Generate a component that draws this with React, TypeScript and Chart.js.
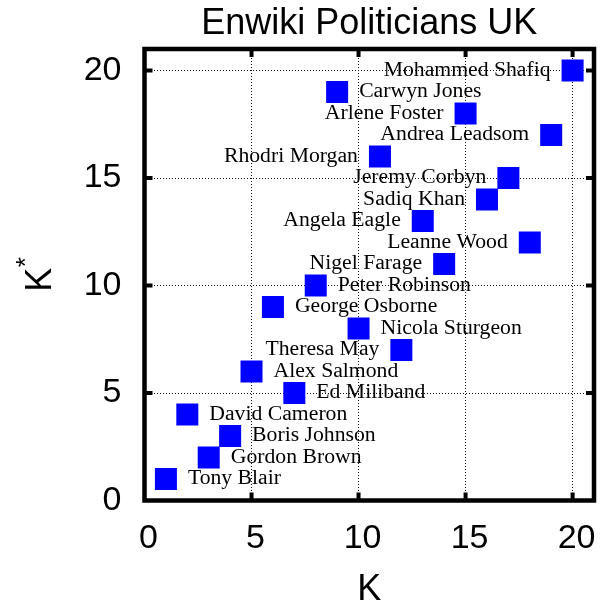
import React, { useEffect, useRef } from "react";
import { Chart, registerables } from "chart.js";

Chart.register(...registerables);

// ---- data ----
const politicians = [
  "Tony Blair",
  "Gordon Brown",
  "Boris Johnson",
  "David Cameron",
  "Ed Miliband",
  "Alex Salmond",
  "Theresa May",
  "Nicola Sturgeon",
  "George Osborne",
  "Peter Robinson",
  "Nigel Farage",
  "Leanne Wood",
  "Angela Eagle",
  "Sadiq Khan",
  "Jeremy Corbyn",
  "Rhodri Morgan",
  "Andrea Leadsom",
  "Arlene Foster",
  "Carwyn Jones",
  "Mohammed Shafiq",
];
const kValues = [1, 3, 4, 2, 7, 5, 12, 10, 6, 8, 14, 18, 13, 16, 17, 11, 19, 15, 9, 20];
const kStarValues = [1, 2, 3, 4, 5, 6, 7, 8, 9, 10, 11, 12, 13, 14, 15, 16, 17, 18, 19, 20];
const leftLabeled = [
  "Theresa May",
  "Nigel Farage",
  "Leanne Wood",
  "Angela Eagle",
  "Sadiq Khan",
  "Jeremy Corbyn",
  "Rhodri Morgan",
  "Andrea Leadsom",
  "Arlene Foster",
  "Mohammed Shafiq",
];
const xTickValues = [0, 5, 10, 15, 20];
const yTickValues = [0, 5, 10, 15, 20];
const chartTitle = "Enwiki Politicians UK";
const xTitle = "K";
const yTitle = "K";
const yTitleSup = "*";

const SANS = "'Liberation Sans', Arial, Helvetica, sans-serif";
const SERIF = "'Liberation Serif', 'Times New Roman', serif";

const overlayPlugin = {
  id: "overlay",
  afterDatasetsDraw(chart: any) {
    const ctx = chart.ctx as CanvasRenderingContext2D;
    const meta = chart.getDatasetMeta(0);
    const { left, right, top, bottom } = chart.chartArea;
    const xs = chart.scales.x;
    const ys = chart.scales.y;

    ctx.save();
    // point labels
    ctx.font = `20px ${SERIF}`;
    ctx.fillStyle = "#000";
    ctx.textBaseline = "middle";
    meta.data.forEach((el: any, i: number) => {
      const name = politicians[i];
      const isLeft = leftLabeled.includes(name);
      ctx.save();
      ctx.translate(el.x + (isLeft ? -22 : 22), el.y);
      ctx.scale(1.085, 1);
      ctx.textAlign = isLeft ? "right" : "left";
      ctx.fillText(name, 0, 0);
      ctx.restore();
    });

    // inward tick marks on all four sides
    ctx.strokeStyle = "#000";
    ctx.setLineDash([]);
    ctx.lineWidth = 4;
    ctx.beginPath();
    xTickValues.forEach((v) => {
      if (v === 0) return;
      const px = xs.getPixelForValue(v);
      ctx.moveTo(px, top);
      ctx.lineTo(px, top + 8);
      ctx.moveTo(px, bottom);
      ctx.lineTo(px, bottom - 8);
    });
    yTickValues.forEach((v) => {
      if (v === 0) return;
      const py = ys.getPixelForValue(v);
      ctx.moveTo(left, py);
      ctx.lineTo(left + 8, py);
      ctx.moveTo(right, py);
      ctx.lineTo(right - 8, py);
    });
    ctx.stroke();

    // frame
    ctx.lineWidth = 4.5;
    ctx.strokeRect(left, top, right - left, bottom - top);

    // superscript of the y-axis title
    const size = 26;
    ctx.font = `${size}px ${SANS}`;
    ctx.textAlign = "center";
    ctx.textBaseline = "alphabetic";
    ctx.translate(ys.left + 19, (ys.top + ys.bottom) / 2 - 12.5);
    ctx.rotate(-Math.PI / 2);
    ctx.fillText(yTitleSup, 0, 0.57 * size);
    ctx.restore();
  },
};

export default function App() {
  const canvasRef = useRef<HTMLCanvasElement | null>(null);

  useEffect(() => {
    if (!canvasRef.current) return;
    const points = kValues.map((x, i) => ({ x, y: kStarValues[i] }));
    const chart = new Chart(canvasRef.current, {
      type: "scatter",
      data: {
        datasets: [
          {
            data: points,
            pointStyle: "rect",
            pointRadius: 15.56,
            pointHoverRadius: 15.56,
            backgroundColor: "#0000ff",
            borderWidth: 0,
            pointBorderWidth: 0,
          },
        ],
      },
      options: {
        responsive: false,
        animation: false,
        events: [],
        layout: { padding: { left: 0, right: 16, top: 0, bottom: 0 } },
        plugins: {
          legend: { display: false },
          tooltip: { enabled: false },
          title: {
            display: true,
            text: chartTitle,
            fullSize: false,
            color: "#000",
            font: { family: SANS, size: 36, weight: "normal", lineHeight: 1.2 },
            padding: { top: 2.8, bottom: 3.0 },
          },
        },
        scales: {
          x: {
            type: "linear",
            position: "bottom",
            min: 0,
            max: 21,
            afterBuildTicks: (s: any) => {
              s.ticks = xTickValues.map((v) => ({ value: v }));
            },
            afterFit: (s: any) => {
              s.height = 105.5;
              s.paddingLeft = 0;
              s.paddingRight = 0;
            },
            ticks: {
              color: "#000",
              font: { family: SANS, size: 34 },
              padding: 17.3,
              labelOffset: 4,
              maxRotation: 0,
              autoSkip: false,
            },
            grid: { color: "#111", lineWidth: 1, drawTicks: false },
            border: { display: false, dash: [1, 2] },
            title: {
              display: true,
              text: xTitle,
              color: "#000",
              font: { family: SANS, size: 36, lineHeight: 1 },
              padding: { top: 0, bottom: -2.5 },
            },
          },
          y: {
            type: "linear",
            position: "left",
            min: 0,
            max: 21,
            afterBuildTicks: (s: any) => {
              s.ticks = yTickValues.map((v) => ({ value: v }));
            },
            afterFit: (s: any) => {
              s.width = 144.5;
              s.paddingTop = 0;
              s.paddingBottom = 0;
            },
            ticks: {
              color: "#000",
              font: { family: SANS, size: 34 },
              padding: 23,
              autoSkip: false,
            },
            grid: { color: "#111", lineWidth: 1, drawTicks: false },
            border: { display: false, dash: [1, 2] },
            title: {
              display: true,
              text: yTitle + " ",
              color: "#000",
              font: { family: SANS, size: 36, lineHeight: 1 },
              padding: { top: 23.5, bottom: 0 },
            },
          },
        },
      },
      plugins: [overlayPlugin],
    } as any);
    return () => chart.destroy();
  }, []);

  return (
    <div style={{ position: "absolute", left: 0, top: 0, width: 610, height: 606, background: "#fff" }}>
      <canvas ref={canvasRef} width={610} height={606} style={{ display: "block" }} />
    </div>
  );
}
